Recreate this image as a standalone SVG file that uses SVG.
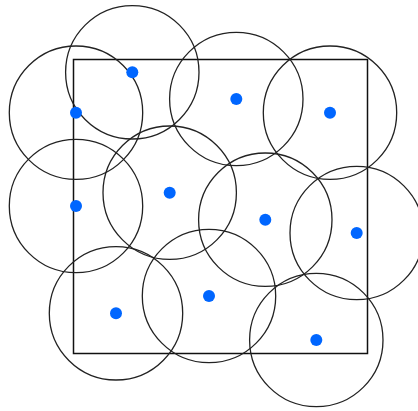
<svg xmlns="http://www.w3.org/2000/svg" width="418" height="411" viewBox="0 0 418 411">
<style>
.c{fill:none;stroke:#222;stroke-width:1.3}
.d{fill:#0066ff}
.sq{fill:none;stroke:#111;stroke-width:1.5}
</style>
<rect width="418" height="411" fill="#fff"/>
<rect class="sq" x="73.5" y="59.5" width="294" height="294"/>
<g id="circles">
<circle class="c" cx="132.3" cy="72.3" r="66.7"/>
<circle class="c" cx="76" cy="112.7" r="66.7"/>
<circle class="c" cx="236.3" cy="99" r="66.7"/>
<circle class="c" cx="330" cy="112.7" r="66.7"/>
<circle class="c" cx="169.7" cy="192.7" r="66.7"/>
<circle class="c" cx="76" cy="206" r="66.7"/>
<circle class="c" cx="265.3" cy="219.7" r="66.7"/>
<circle class="c" cx="356.7" cy="233" r="66.7"/>
<circle class="c" cx="116" cy="313.3" r="66.7"/>
<circle class="c" cx="209" cy="296" r="66.7"/>
<circle class="c" cx="316.3" cy="340" r="66.7"/>
</g>
<g id="dots">
<circle class="d" cx="132.3" cy="72.3" r="6"/>
<circle class="d" cx="76" cy="112.7" r="6"/>
<circle class="d" cx="236.3" cy="99" r="6"/>
<circle class="d" cx="330" cy="112.7" r="6"/>
<circle class="d" cx="169.7" cy="192.7" r="6"/>
<circle class="d" cx="76" cy="206" r="6"/>
<circle class="d" cx="265.3" cy="219.7" r="6"/>
<circle class="d" cx="356.7" cy="233" r="6"/>
<circle class="d" cx="116" cy="313.3" r="6"/>
<circle class="d" cx="209" cy="296" r="6"/>
<circle class="d" cx="316.3" cy="340" r="6"/>
</g>
</svg>
